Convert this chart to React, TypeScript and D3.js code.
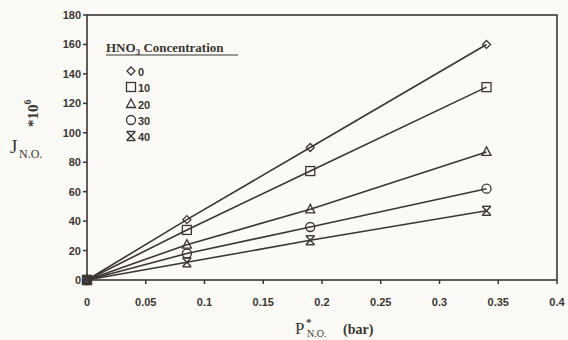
import React from "react";
import * as d3 from "d3";

const xValues = [0, 0.085, 0.19, 0.34];
const series0 = [0, 41, 90, 160];
const series10 = [0, 34, 74, 131];
const series20 = [0, 24, 48, 87];
const series30 = [0, 18, 36, 62];
const series40 = [0, 12, 27, 47];
const seriesNames = ["0", "10", "20", "30", "40"];
const seriesSymbols = ["diamond", "square", "triangle", "circle", "star"];
const xTicks = [0, 0.05, 0.1, 0.15, 0.2, 0.25, 0.3, 0.35, 0.4];
const yTicks = [0, 20, 40, 60, 80, 100, 120, 140, 160, 180];

const allSeries = [series0, series10, series20, series30, series40];

const ink = "#3b3632";

function Marker({ type, x, y }: { type: string; x: number; y: number }) {
  const s = 4;
  if (type === "diamond")
    return <path d={`M${x},${y - s}L${x + s},${y}L${x},${y + s}L${x - s},${y}Z`} fill="none" stroke={ink} strokeWidth={1.3} />;
  if (type === "square")
    return <rect x={x - 4.5} y={y - 4.5} width={9} height={9} fill="none" stroke={ink} strokeWidth={1.3} />;
  if (type === "triangle")
    return <path d={`M${x},${y - 5}L${x + 4.5},${y + 3.5}L${x - 4.5},${y + 3.5}Z`} fill="none" stroke={ink} strokeWidth={1.3} />;
  if (type === "circle")
    return <circle cx={x} cy={y} r={4.5} fill="none" stroke={ink} strokeWidth={1.3} />;
  return (
    <g stroke={ink} strokeWidth={1.4}>
      <line x1={x - 4} y1={y - 4} x2={x + 4} y2={y + 4} />
      <line x1={x - 4} y1={y + 4} x2={x + 4} y2={y - 4} />
      <line x1={x - 4.5} y1={y - 4.5} x2={x + 4.5} y2={y - 4.5} />
      <line x1={x - 4.5} y1={y + 4.5} x2={x + 4.5} y2={y + 4.5} />
    </g>
  );
}

export default function App() {
  const x = d3.scaleLinear().domain([0, 0.4]).range([87, 557]);
  const y = d3.scaleLinear().domain([0, 180]).range([280, 15]);
  const line = d3
    .line<[number, number]>()
    .x((d) => x(d[0]))
    .y((d) => y(d[1]));
  const font = "'Liberation Sans', Arial, sans-serif";
  const serif = "'Liberation Serif', 'Times New Roman', serif";
  const legendY = [72, 88, 105, 121, 137];

  return (
    <svg width={568} height={340} style={{ position: "absolute", left: 0, top: 0, background: "#fbfaf7" }}>
      <rect x={0} y={0} width={568} height={340} fill="#fbfaf7" />
      {/* frame */}
      <rect x={x(0)} y={y(180)} width={x(0.4) - x(0)} height={y(0) - y(180)} fill="none" stroke={ink} strokeWidth={1.6} />
      {/* y ticks */}
      {yTicks.map((t) => (
        <g key={"y" + t}>
          <line x1={x(0) - 4} x2={x(0)} y1={y(t)} y2={y(t)} stroke={ink} strokeWidth={1.5} />
          <text x={x(0) - 6} y={y(t) + 4} textAnchor="end" fontFamily={font} fontWeight="bold" fontSize={11} fill={ink}>
            {t}
          </text>
        </g>
      ))}
      {/* x ticks */}
      {xTicks.map((t) => (
        <g key={"x" + t}>
          <line x1={x(t)} x2={x(t)} y1={y(0)} y2={y(0) + 4} stroke={ink} strokeWidth={1.5} />
          <text x={x(t)} y={y(0) + 26} textAnchor="middle" fontFamily={font} fontWeight="bold" fontSize={11} fill={ink}>
            {d3.format("~g")(t)}
          </text>
        </g>
      ))}
      {/* series */}
      {allSeries.map((vals, i) => {
        const pts = xValues.map((xv, j) => [xv, vals[j]] as [number, number]);
        return (
          <g key={"s" + i}>
            <path d={line(pts) || ""} fill="none" stroke={ink} strokeWidth={1.6} />
            {pts.map((p, j) => (
              <Marker key={j} type={seriesSymbols[i]} x={x(p[0])} y={y(p[1])} />
            ))}
          </g>
        );
      })}
      {/* legend */}
      <text x={106} y={52} fontFamily={serif} fontWeight="bold" fontSize={13} fill={ink}>
        HNO<tspan dy={3} fontSize={9}>3</tspan>
        <tspan dy={-3}> Concentration</tspan>
      </text>
      <line x1={106} x2={238} y1={55} y2={55} stroke={ink} strokeWidth={1.2} />
      {seriesNames.map((n, i) => (
        <g key={"l" + i}>
          <Marker type={seriesSymbols[i]} x={131} y={legendY[i] - 1} />
          <text x={138} y={legendY[i] + 4} fontFamily={font} fontWeight="bold" fontSize={11} fill={ink}>
            {n}
          </text>
        </g>
      ))}
      {/* y axis label */}
      <text x={10} y={153} fontFamily={serif} fontSize={19} fill={ink}>
        J
      </text>
      <text x={19} y={158} fontFamily={serif} fontSize={12} fill={ink}>
        N.O.
      </text>
      <text transform="translate(38,127) rotate(-90)" fontFamily={serif} fontWeight="bold" fontSize={15} fill={ink}>
        *10<tspan dy={-7} fontSize={10}>6</tspan>
      </text>
      {/* x axis label */}
      <text x={295} y={334} fontFamily={serif} fontSize={17} fill={ink}>
        P
      </text>
      <text x={306} y={326} fontFamily={serif} fontWeight="bold" fontSize={11} fill={ink}>
        *
      </text>
      <text x={307} y={337} fontFamily={serif} fontSize={10} fill={ink}>
        N.O.
      </text>
      <text x={343} y={334} fontFamily={serif} fontWeight="bold" fontSize={14} fill={ink}>
        (bar)
      </text>
    </svg>
  );
}
